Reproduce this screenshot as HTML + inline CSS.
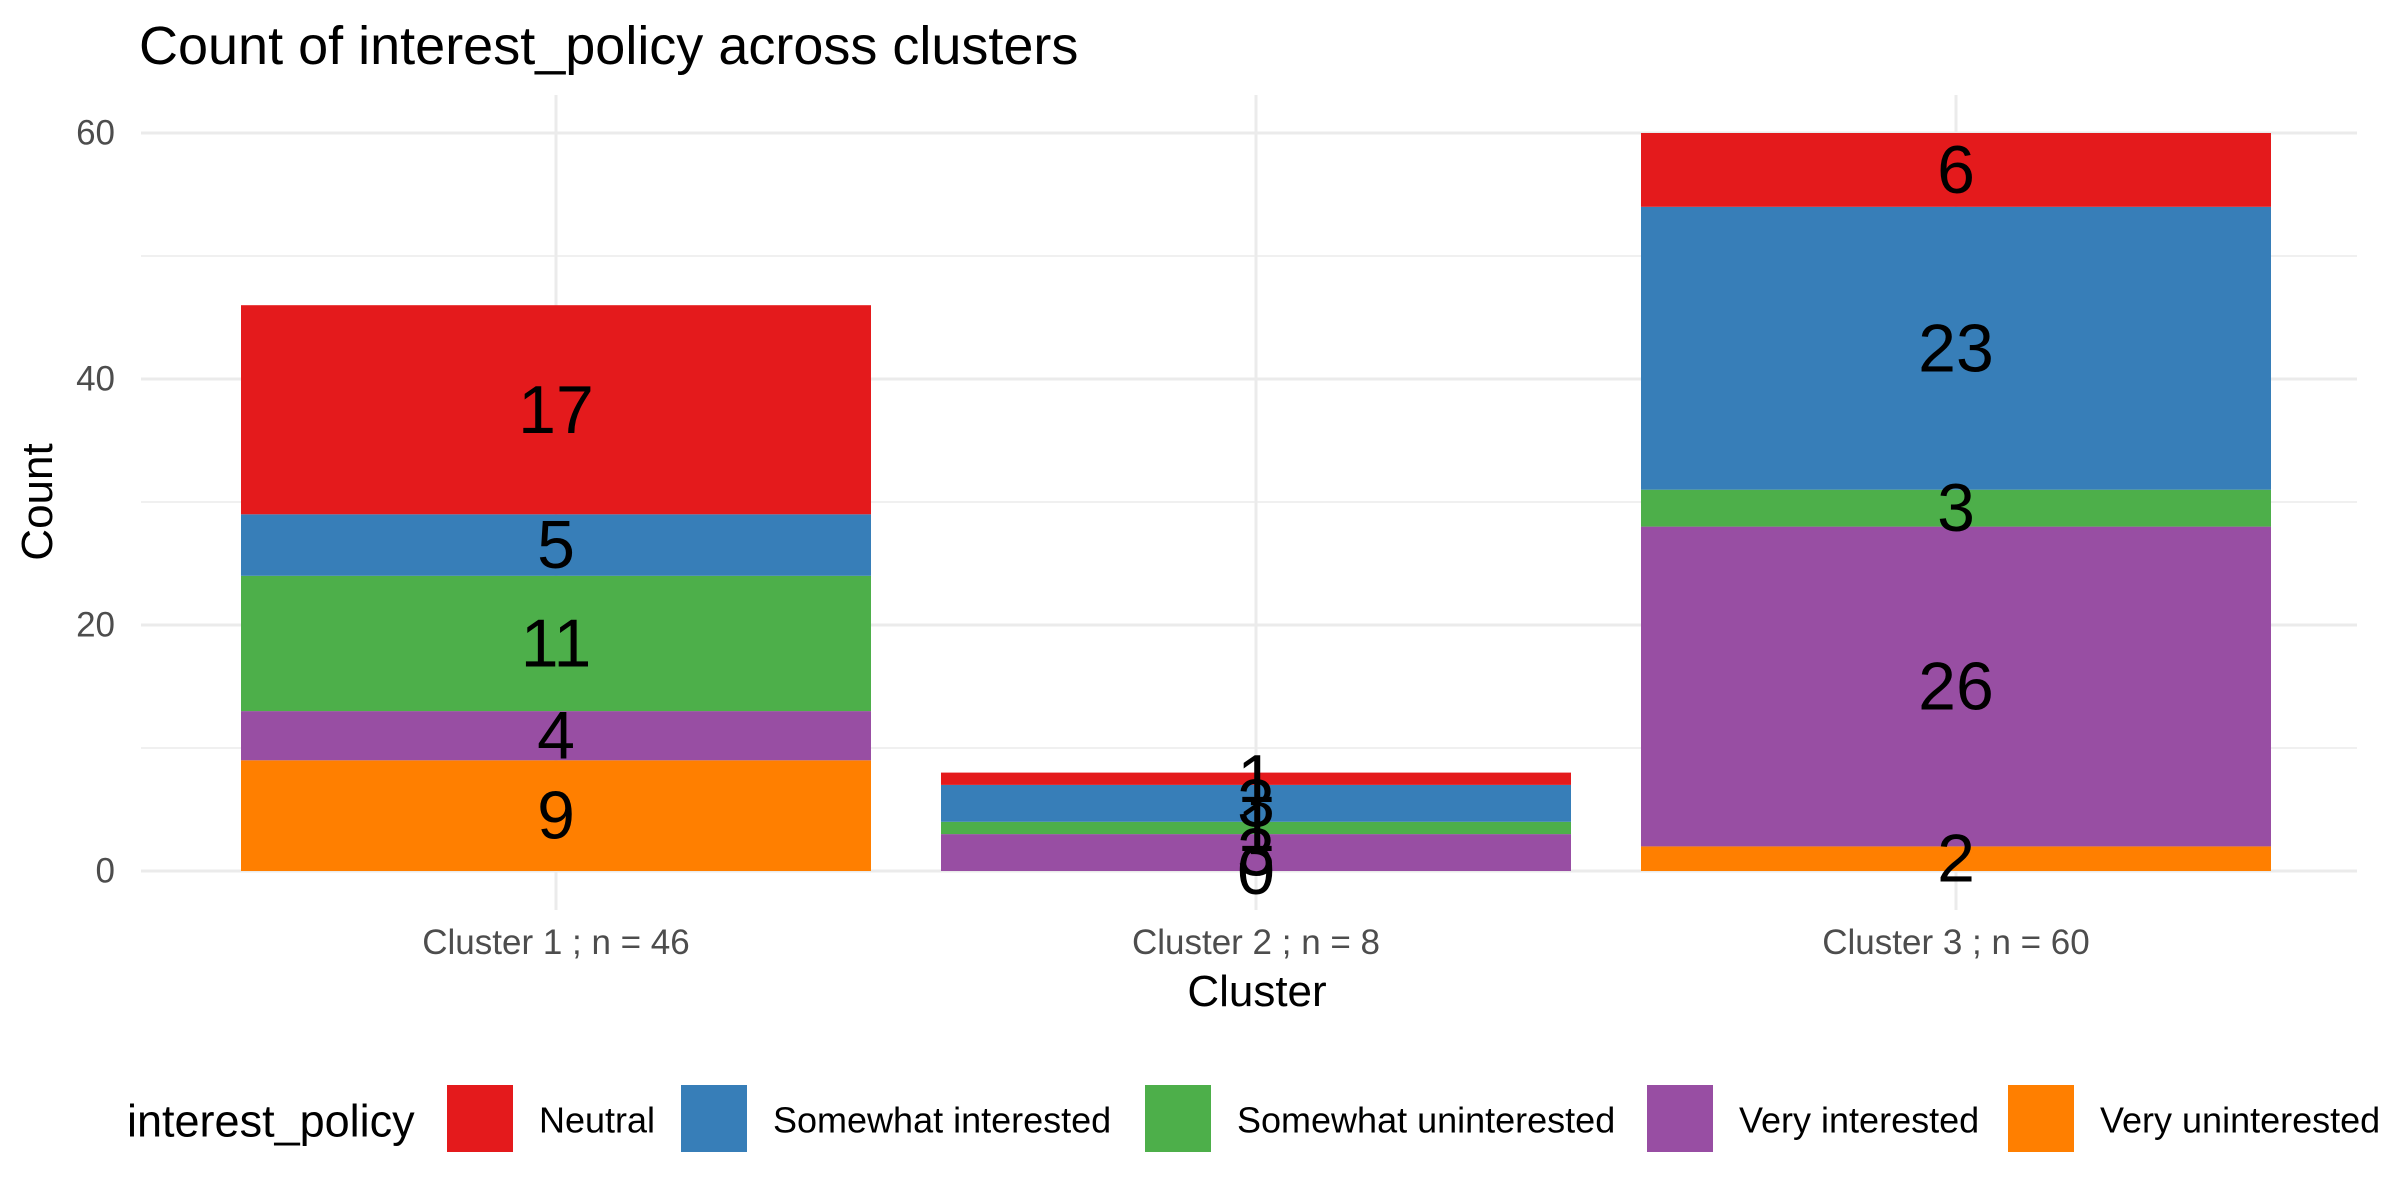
<!DOCTYPE html>
<html><head><meta charset="utf-8"><style>
html,body{margin:0;padding:0;background:#fff;}
svg{display:block;font-family:"Liberation Sans",Arial,sans-serif;}
</style></head><body>
<svg id="chart" width="2400" height="1200" viewBox="0 0 2400 1200" xmlns="http://www.w3.org/2000/svg">
<rect width="2400" height="1200" fill="#fff"/>
<text x="139" y="64" font-size="54" fill="#000">Count of interest_policy across clusters</text>
<g id="grid"></g><g id="bars"></g><g id="labels"></g><g id="axes"></g><g id="legend"></g>
<text x="1257" y="1006" font-size="44" text-anchor="middle" fill="#000">Cluster</text>
<text transform="translate(52,502) rotate(-90)" font-size="44" text-anchor="middle" fill="#000">Count</text>
</svg>
<script>
const categories = ["Cluster 1 ; n = 46", "Cluster 2 ; n = 8", "Cluster 3 ; n = 60"];
const seriesNames = ["Neutral", "Somewhat interested", "Somewhat uninterested", "Very interested", "Very uninterested"];
const neutral = [17, 1, 6];
const somewhatInterested = [5, 3, 23];
const somewhatUninterested = [11, 1, 3];
const veryInterested = [4, 3, 26];
const veryUninterested = [9, 0, 2];
const yTicks = [0, 20, 40, 60];
const yMinor = [10, 30, 50];
const colors = ["#E41A1C", "#377EB8", "#4DAF4A", "#984EA3", "#FF7F00"];

const NS = "http://www.w3.org/2000/svg";
const panelL = 141, panelR = 2357, panelT = 95, panelB = 910;
const y0 = 871, pxPerUnit = 12.3;
function yScale(v){ return y0 - v * pxPerUnit; }
const step = 700, firstCenter = 556;
function xScale(i){ return firstCenter + i * step; }
const barW = 630;
function mk(tag, attrs, parent){ const e=document.createElementNS(NS,tag); for(const k in attrs) e.setAttribute(k,attrs[k]); parent.appendChild(e); return e; }

const grid = document.getElementById('grid');
yMinor.forEach(v=>{
  const l = mk('line',{x1:panelL,x2:panelR,y1:yScale(v),y2:yScale(v),stroke:'#ebebeb','stroke-width':1.5},grid);
  
  
});
yTicks.forEach(v=>{
  const l = mk('line',{x1:panelL,x2:panelR,y1:yScale(v),y2:yScale(v),stroke:'#ebebeb','stroke-width':3},grid);
  
  
});
categories.forEach((c,i)=>{
  const l = mk('line',{x1:xScale(i),x2:xScale(i),y1:panelT,y2:panelB,stroke:'#ebebeb','stroke-width':3},grid);
  
  
});

const series = [neutral, somewhatInterested, somewhatUninterested, veryInterested, veryUninterested];
const bars = document.getElementById('bars');
const labels = document.getElementById('labels');
categories.forEach((c,i)=>{
  let cum = 0;
  for(let s = series.length-1; s>=0; s--){
    const v = series[s][i];
    const r = mk('rect',{x:xScale(i)-barW/2,y:yScale(cum+v),width:barW,height:v*pxPerUnit,fill:colors[s]},bars);
    
    
    const t = mk('text',{x:xScale(i),y:yScale(cum+v/2),'font-size':68,'text-anchor':'middle','dominant-baseline':'central',fill:'#000'},labels);
    
    
    t.textContent = v;
    cum += v;
  }
});

const axes = document.getElementById('axes');
yTicks.forEach(v=>{
  const t = mk('text',{x:115,y:yScale(v),'font-size':35,'text-anchor':'end','dominant-baseline':'central',fill:'#4d4d4d'},axes);
  
  
  t.textContent = v;
});
categories.forEach((c,i)=>{
  const t = mk('text',{x:xScale(i),y:954,'font-size':35,'text-anchor':'middle',fill:'#4d4d4d'},axes);
  
  
  t.textContent = c;
});

const legend = document.getElementById('legend');
const lt = mk('text',{x:127,y:1121,'font-size':45,'dominant-baseline':'central',fill:'#000'},legend);


lt.textContent = 'interest_policy';
const keyX = [447, 681, 1145, 1647, 2008];
seriesNames.forEach((n,s)=>{
  const r = mk('rect',{x:keyX[s],y:1085,width:66,height:67,fill:colors[s]},legend);
  
  
  const t = mk('text',{x:keyX[s]+92,y:1120,'font-size':36,'dominant-baseline':'central',fill:'#000'},legend);
  
  
  t.textContent = n;
});
</script>
</body></html>
